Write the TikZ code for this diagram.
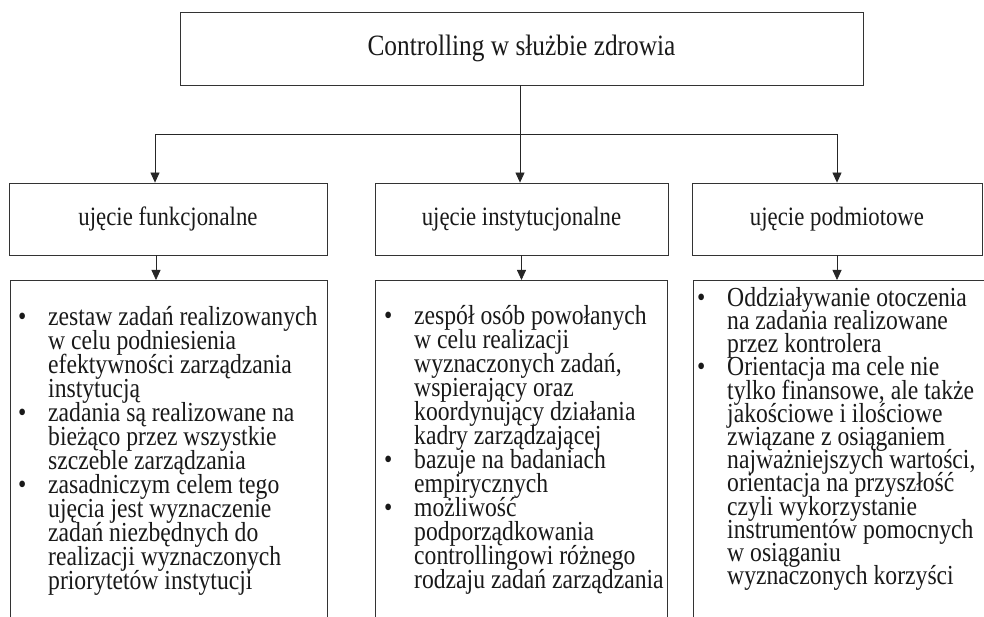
\documentclass[tikz,border=0pt]{standalone}
\usepackage{fontspec}
\setmainfont{Liberation Serif}[FakeStretch=0.86]
\usetikzlibrary{arrows.meta,positioning,calc}
\newcommand{\pkt}{\hbox to 30pt{\textbullet\hfil}}
\newcommand{\wc}{\hbox to 30pt{\hfil}}
\lineskiplimit=-40pt

\begin{document}
\begin{tikzpicture}[
  x=1pt, y=-1pt,
  box/.style={draw=black!80, line width=0.8pt, inner sep=0pt, align=center, text=black!90},
  head/.style={box, minimum width=318pt, minimum height=72pt, font=\fontsize{26.5}{30}\selectfont},
  frame/.style={draw=black!80, line width=0.8pt, inner sep=0pt, anchor=north, minimum height=380pt},
  txt/.style={anchor=north west, inner sep=0pt, align=left, text=black!90, font=\fontsize{27.5}{24}\selectfont},
  arr/.style={-{Triangle[length=10pt,width=9pt]}, draw=black!85, line width=0.8pt},
]
\useasboundingbox (0,0) rectangle (984,617);
\clip (0,0) rectangle (984,617);
% ---------------- top ----------------
\node[box, minimum width=683pt, minimum height=73pt, font=\fontsize{29.5}{34}\selectfont] (title) at (521.5,48.5) {Controlling w służbie zdrowia};
% ---------------- three views ----------------
\node[head] (funk) at (168,219) {ujęcie funkcjonalne};
\node[head, minimum width=293pt] (inst) at (521.5,219) {ujęcie instytucjonalne};
\node[head, minimum width=290pt] (podm) at (837,219) {ujęcie podmiotowe};
\coordinate (fork) at (520,134);
\draw[draw=black!85, line width=0.8pt] (title.south -| fork) -- (fork);
\draw[arr] (fork) -- (fork |- inst.north);
\draw[arr] (fork) -| ([xshift=-13pt]funk.north);
\draw[arr] (fork) -| (podm.north);
% ---------------- descriptions ----------------
\node[frame, minimum width=317pt] (funkList) at (168.5,280) {};
\node[frame, minimum width=292pt] (instList) at (521,280) {};
\node[frame, minimum width=300pt] (podmList) at (843,280) {};
\draw[arr] ([xshift=-12pt]funk.south) -- ([xshift=-12pt]funk.south |- funkList.north);
\draw[arr] (inst.south) -- (inst.south |- instList.north);
\draw[arr] (podm.south) -- (podm.south |- podmList.north);
\node[txt] (funkTxt) at (18,306) {\pkt zestaw zadań realizowanych\\ \wc w celu podniesienia\\ \wc efektywności zarządzania\\ \wc instytucją\\
  \pkt zadania są realizowane na\\ \wc bieżąco przez wszystkie\\ \wc szczeble zarządzania\\
  \pkt zasadniczym celem tego\\ \wc ujęcia jest wyznaczenie\\ \wc zadań niezbędnych do\\ \wc realizacji wyznaczonych\\ \wc priorytetów instytucji};
\node[txt] (instTxt) at (384,305) {\pkt zespół osób powołanych\\ \wc w celu realizacji\\ \wc wyznaczonych zadań,\\ \wc wspierający oraz\\ \wc koordynujący działania\\ \wc kadry zarządzającej\\
  \pkt bazuje na badaniach\\ \wc empirycznych\\
  \pkt możliwość\\ \wc podporządkowania\\ \wc controllingowi różnego\\ \wc rodzaju zadań zarządzania};
\node[txt, font=\fontsize{27.5}{23.2}\selectfont] (podmTxt) at (697,287) {\pkt Oddziaływanie otoczenia\\ \wc na zadania realizowane\\ \wc przez kontrolera\\
  \pkt Orientacja ma cele nie\\ \wc tylko finansowe, ale także\\ \wc jakościowe i ilościowe\\ \wc związane z osiąganiem\\ \wc najważniejszych wartości,\\ \wc orientacja na przyszłość\\ \wc czyli wykorzystanie\\ \wc instrumentów pomocnych\\ \wc w osiąganiu\\ \wc wyznaczonych korzyści};
\end{tikzpicture}
\end{document}
